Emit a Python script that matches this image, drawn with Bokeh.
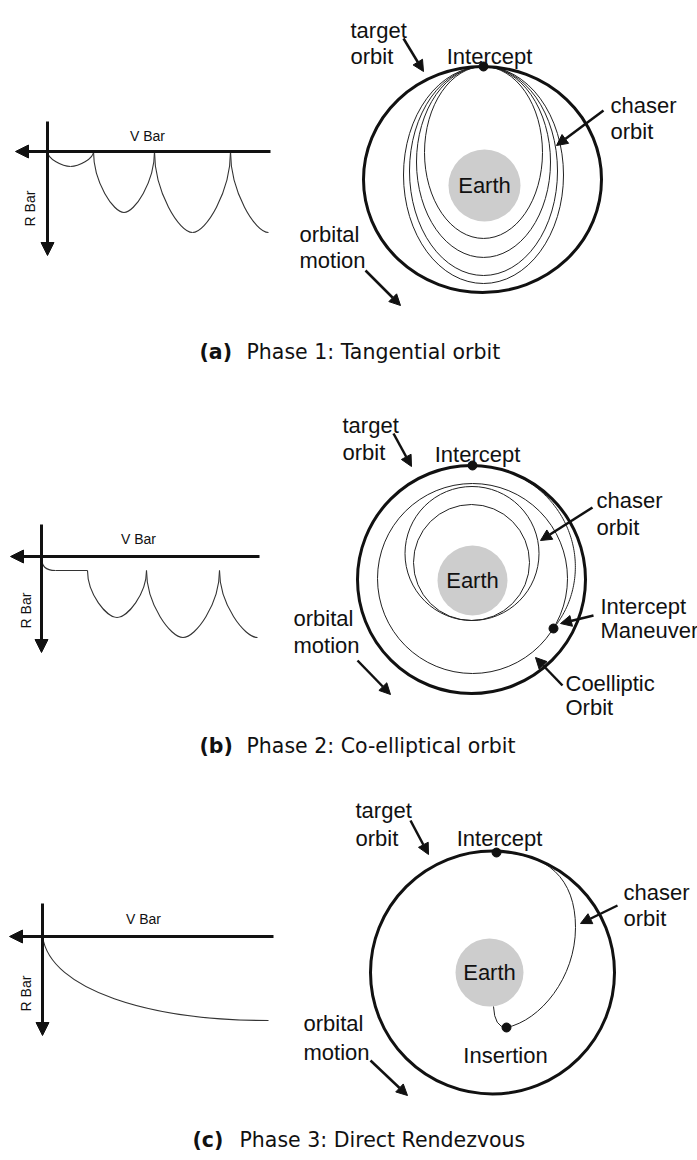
import numpy as np
from bokeh.plotting import figure
from bokeh.models import Range1d, Arrow, NormalHead
from bokeh.core.properties import value
from bokeh.embed import file_html
from bokeh.resources import INLINE

W, H = 697, 1160
LABEL_FONT = "Liberation Sans"
CAPTION_FONT = "DejaVu Sans"
INK = "#111111"

# ---------------- captions ----------------
caption_tags = ["(a)", "(b)", "(c)"]
caption_texts = ["Phase 1:  Tangential orbit",
                 "Phase 2:  Co-elliptical orbit",
                 "Phase 3:  Direct Rendezvous"]
caption_tag_x = [199, 199, 192]
caption_text_x = [246, 246, 239]
caption_y = [351, 745, 1139]

# ---------------- relative-motion frames (V bar / R bar) ----------------
frame_x = [47, 41, 42]
frame_y = [151, 556, 936]
vbar_tip_x = [15, 10, 9]
vbar_end_x = [270, 259, 273]
rbar_top_y = [121, 524, 903]
rbar_tip_y = [255, 652, 1035]
vbar_label_x = [147, 138, 143]
vbar_label_y = [135, 538, 918]
rbar_label_x = [29, 25, 25]
rbar_label_y = [208, 610, 993]

# cusp-to-cusp hops of the chaser relative to the target
hop_x0 = [47, 93, 154, 230, 87, 146, 219]
hop_x1 = [93, 154, 230, 306, 146, 219, 295]
hop_depth = [15, 61, 81, 81, 47, 67, 67]
hop_level = [151, 151, 151, 151, 570, 570, 570]
hop_complete = [True, True, True, False, True, True, False]

# phase 2: drop onto the co-elliptic level, then drift
drift_start = (41, 556)
drift_level = 570
drift_end_x = 87
# phase 3: single direct approach curve (cubic Bezier: start, c1, c2, end)
direct_curve = [(42, 936), (50, 990), (150, 1020), (268, 1020)]

# ---------------- inertial views ----------------
target_cx = [482, 471, 492]
target_cy = [179, 579, 972]
target_w = [238, 228, 244]
target_h = [226, 228, 243]

earth_cx = [484, 472, 489]
earth_cy = [185, 580, 972]
earth_r = [36, 35, 34]

# phase 1: tangential chaser ellipses sharing the intercept point
tangent_top_y = 66
tangent_cx = 483
tangent_half_w = [59, 67, 74, 80]
tangent_bottom_y = [238, 257, 275, 283]

# phase 2: phasing orbits, co-elliptic orbit and the final transfer
phasing_cx = [471, 471.5]
phasing_cy = [562, 553]
phasing_r = [58, 67]
coelliptic_cx, coelliptic_cy, coelliptic_r = 472, 578, 95
transfer_start_deg = -31.7
transfer_end_deg = 90.0
transfer_r0, transfer_r1 = 95, 113

# phase 3: ascent hook and direct transfer (Bezier segments)
direct_segments = [
    [(496, 852), (547, 852), (575, 878), (575, 927)],
    [(575, 927), (575, 977), (540, 1020), (506, 1027)],
]
ascent_hook = [(493, 1006), (494, 1027), (506, 1027)]

event_x = [483, 472, 553, 496, 506]
event_y = [66, 465, 628, 852, 1027]

# ---------------- labels ----------------
left_labels = [
    ("target", 350, 30), ("orbit", 350, 56),
    ("chaser", 610, 105), ("orbit", 610, 131),
    ("orbital", 299, 234), ("motion", 299, 260),
    ("target", 342, 425), ("orbit", 342, 452),
    ("chaser", 596, 500), ("orbit", 596, 527),
    ("Intercept", 600, 606), ("Maneuver", 600, 630),
    ("Coelliptic", 565, 683), ("Orbit", 565, 707),
    ("orbital", 293, 618), ("motion", 293, 645),
    ("target", 355, 810), ("orbit", 355, 838),
    ("chaser", 623, 892), ("orbit", 623, 918),
    ("orbital", 303, 1023), ("motion", 303, 1052),
]
center_labels = [
    ("Intercept", 489, 56), ("Intercept", 477, 454),
    ("Intercept", 499, 838), ("Insertion", 505, 1055),
]

pointer_arrows = [
    (403, 38, 423, 71), (603, 110, 556, 145), (365, 270, 400, 305),
    (393, 433, 411, 466), (592, 507, 540, 540), (593, 615, 560, 623),
    (562, 685, 535, 657), (357, 660, 390, 694),
    (410, 820, 428, 854), (617, 905, 580, 923), (370, 1060, 407, 1095),
]

# ---------------- figure ----------------
p = figure(width=W, height=H, x_range=Range1d(0, W), y_range=Range1d(H, 0),
           output_backend="svg", toolbar_location=None, min_border=0,
           x_axis_location=None, y_axis_location=None)
p.grid.visible = False
p.outline_line_color = None
p.background_fill_color = "white"
p.border_fill_color = "white"


def head(size):
    return NormalHead(size=size, fill_color=INK, line_color=INK, line_width=1)


# V bar / R bar axes
for i in range(3):
    p.add_layout(Arrow(x_start=vbar_end_x[i], y_start=frame_y[i],
                       x_end=vbar_tip_x[i], y_end=frame_y[i],
                       end=head(13), line_width=3, line_color=INK))
    p.add_layout(Arrow(x_start=frame_x[i], y_start=rbar_top_y[i],
                       x_end=frame_x[i], y_end=rbar_tip_y[i],
                       end=head(13), line_width=3, line_color=INK))

p.text(x=vbar_label_x, y=vbar_label_y, text=["V Bar"] * 3,
       text_font=value(LABEL_FONT), text_font_size="14px",
       text_align="center", text_baseline="middle", text_color=INK)
p.text(x=rbar_label_x, y=rbar_label_y, text=["R Bar"] * 3, angle=np.pi / 2,
       text_font=value(LABEL_FONT), text_font_size="14px",
       text_align="center", text_baseline="middle", text_color=INK)

# hops as pairs of cubic Bezier halves (vertical at cusps, flat at the bottom)
A, B = 0.5, 0.35
bx0, by0, bx1, by1, bcx0, bcy0, bcx1, bcy1 = ([] for _ in range(8))
for x0, x1, d, yl, full in zip(hop_x0, hop_x1, hop_depth, hop_level, hop_complete):
    xm, yb = (x0 + x1) / 2, yl + d
    bx0.append(x0); by0.append(yl); bx1.append(xm); by1.append(yb)
    bcx0.append(x0); bcy0.append(yl + A * d)
    bcx1.append(xm - B * (xm - x0)); bcy1.append(yb)
    if full:
        bx0.append(xm); by0.append(yb); bx1.append(x1); by1.append(yl)
        bcx0.append(xm + B * (x1 - xm)); bcy0.append(yb)
        bcx1.append(x1); bcy1.append(yl + A * d)
p.bezier(x0=bx0, y0=by0, x1=bx1, y1=by1, cx0=bcx0, cy0=bcy0, cx1=bcx1, cy1=bcy1,
         line_color="#333333", line_width=1.1)

# phase 2 drop and drift
sx, sy = drift_start
p.bezier(x0=[sx], y0=[sy], x1=[sx + 14], y1=[drift_level],
         cx0=[sx], cy0=[sy + 10], cx1=[sx + 4], cy1=[drift_level],
         line_color="#333333", line_width=1.1)
p.line([sx + 14, drift_end_x], [drift_level, drift_level],
       line_color="#333333", line_width=1.1)

# phase 3 direct approach
(d0, dc0, dc1, d1) = direct_curve
p.bezier(x0=[d0[0]], y0=[d0[1]], x1=[d1[0]], y1=[d1[1]],
         cx0=[dc0[0]], cy0=[dc0[1]], cx1=[dc1[0]], cy1=[dc1[1]],
         line_color="#333333", line_width=1.1)

# Earth
p.circle(x=earth_cx, y=earth_cy, radius=earth_r, fill_color="#cdcdcd", line_color=None)
p.text(x=earth_cx, y=earth_cy, text=["Earth"] * 3,
       text_font=value(LABEL_FONT), text_font_size="22px",
       text_align="center", text_baseline="middle", text_color=INK)

# phase 1 tangential ellipses
ell_h = [b - tangent_top_y for b in tangent_bottom_y]
ell_cy = [tangent_top_y + h / 2 for h in ell_h]
p.ellipse(x=[tangent_cx] * 4, y=ell_cy, width=[2 * w for w in tangent_half_w],
          height=ell_h, fill_color=None, line_color="#222222", line_width=1)

# phase 2 orbits
p.circle(x=phasing_cx, y=phasing_cy, radius=phasing_r,
         fill_color=None, line_color="#222222", line_width=1)
p.circle(x=[coelliptic_cx], y=[coelliptic_cy], radius=[coelliptic_r],
         fill_color=None, line_color="#222222", line_width=1)
th = np.radians(np.linspace(transfer_start_deg, transfer_end_deg, 120))
f = (th - th[0]) / (th[-1] - th[0])
rr = transfer_r0 + (transfer_r1 - transfer_r0) * np.sin(np.pi / 2 * f)
p.line(coelliptic_cx + rr * np.cos(th), coelliptic_cy - rr * np.sin(th),
       line_color="#222222", line_width=1)

# phase 3 transfer
for seg in direct_segments:
    (q0, qc0, qc1, q1) = seg
    p.bezier(x0=[q0[0]], y0=[q0[1]], x1=[q1[0]], y1=[q1[1]],
             cx0=[qc0[0]], cy0=[qc0[1]], cx1=[qc1[0]], cy1=[qc1[1]],
             line_color="#222222", line_width=1)
(h0, hc, h1) = ascent_hook
p.quadratic(x0=[h0[0]], y0=[h0[1]], x1=[h1[0]], y1=[h1[1]], cx=[hc[0]], cy=[hc[1]],
            line_color="#222222", line_width=1)

# target orbits
p.ellipse(x=target_cx, y=target_cy, width=target_w, height=target_h,
          fill_color=None, line_color=INK, line_width=3)

# event points
p.scatter(x=event_x, y=event_y, size=9, color=INK)

# labels
p.text(x=[l[1] for l in left_labels], y=[l[2] for l in left_labels],
       text=[l[0] for l in left_labels],
       text_font=value(LABEL_FONT), text_font_size="22px",
       text_align="left", text_baseline="alphabetic", text_color=INK)
p.text(x=[l[1] for l in center_labels], y=[l[2] for l in center_labels],
       text=[l[0] for l in center_labels],
       text_font=value(LABEL_FONT), text_font_size="22px",
       text_align="center", text_baseline="alphabetic", text_color=INK)

for (x0, y0, x1, y1) in pointer_arrows:
    p.add_layout(Arrow(x_start=x0, y_start=y0, x_end=x1, y_end=y1,
                       end=head(11), line_width=2.5, line_color=INK))

# captions
p.text(x=caption_tag_x, y=caption_y, text=caption_tags,
       text_font=value(CAPTION_FONT), text_font_size="20.5px", text_font_style="bold",
       text_align="left", text_baseline="alphabetic", text_color=INK)
p.text(x=caption_text_x, y=caption_y, text=caption_texts,
       text_font=value(CAPTION_FONT), text_font_size="20.5px",
       text_align="left", text_baseline="alphabetic", text_color=INK)

open("out.html", "w").write(file_html(p, INLINE))
